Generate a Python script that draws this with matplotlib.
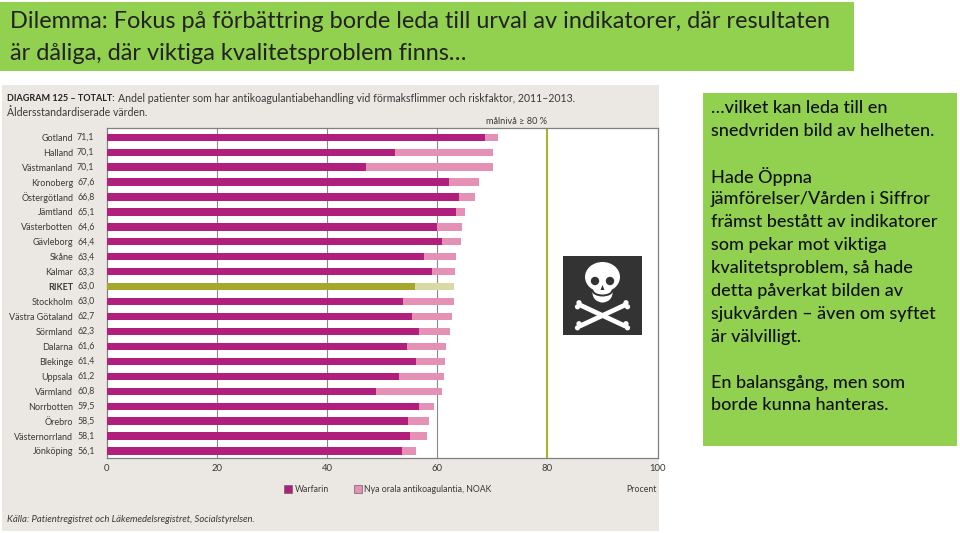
import matplotlib
matplotlib.use("Agg")
import matplotlib.pyplot as plt
from matplotlib.patches import Rectangle, Ellipse, Polygon, Circle, Arc

plt.rcParams['font.family'] = ['Lato', 'DejaVu Sans']

regions = ["Gotland", "Halland", "Västmanland", "Kronoberg", "Östergötland", "Jämtland",
           "Västerbotten", "Gävleborg", "Skåne", "Kalmar", "RIKET", "Stockholm",
           "Västra Götaland", "Sörmland", "Dalarna", "Blekinge", "Uppsala", "Värmland",
           "Norrbotten", "Örebro", "Västernorrland", "Jönköping"]
totals = [71.1, 70.1, 70.1, 67.6, 66.8, 65.1, 64.6, 64.4, 63.4, 63.3, 63.0, 63.0,
          62.7, 62.3, 61.6, 61.4, 61.2, 60.8, 59.5, 58.5, 58.1, 56.1]
warfarin = [68.7, 52.4, 47.1, 62.2, 64.0, 63.5, 60.0, 60.8, 57.6, 59.1, 56.0, 53.9,
            55.4, 56.7, 54.5, 56.2, 53.1, 48.9, 56.8, 54.7, 55.0, 53.6]
xticks = [0, 20, 40, 60, 80, 100]
grid_lines = [20, 40, 60]
target = 80

title_lines = ["Dilemma: Fokus på förbättring borde leda till urval av indikatorer, där resultaten",
               "är dåliga, där viktiga kvalitetsproblem finns…"]
side_lines = ["…vilket kan leda till en", "snedvriden bild av helheten.", None,
              "Hade Öppna", "jämförelser/Vården i Siffror", "främst bestått av indikatorer",
              "som pekar mot viktiga", "kvalitetsproblem, så hade", "detta påverkat bilden av",
              "sjukvården – även om syftet", "är välvilligt.", None,
              "En balansgång, men som", "borde kunna hanteras."]

GREEN = "#92d050"
BEIGE = "#ebe7e2"
TXT = "#3a3a3a"
W, H = 960, 533

fig = plt.figure(figsize=(W / 100, H / 100), dpi=100, facecolor="white")

# overlay in pixel coordinates for the slide parts
bg = fig.add_axes([0, 0, 1, 1], zorder=0)
bg.set_xlim(0, W)
bg.set_ylim(H, 0)
bg.axis("off")
bg.add_patch(Rectangle((0, 2), 854, 69, color=GREEN, lw=0))
bg.add_patch(Rectangle((703, 93), 254, 353, color=GREEN, lw=0))
bg.add_patch(Rectangle((2, 85), 657, 446, color=BEIGE, lw=0))

for yy, line in zip([22, 53], title_lines):
    bg.text(10, yy, line, fontsize=16.9, color="#222222", va="center")

side_y = [108, 131, None, 176, 199, 222, 245, 268, 291, 314, 337, None, 383, 405]
for yy, line in zip(side_y, side_lines):
    if line:
        bg.text(711, yy, line, fontsize=13, color="#111111", va="center", fontweight="medium")

bg.text(7, 98.5, "DIAGRAM 125 – TOTALT:", fontsize=6.5, color="#222222", va="center", fontweight="bold")
bg.text(118, 98.5, "Andel patienter som har antikoagulantiabehandling vid förmaksflimmer och riskfaktor, 2011–2013.",
        fontsize=7.6, color=TXT, va="center")
bg.text(7, 112, "Åldersstandardiserade värden.", fontsize=7.6, color=TXT, va="center")
bg.text(547, 121, "målnivå ≥ 80 %", fontsize=6.6, color=TXT, va="center", ha="right")
bg.text(7, 519, "Källa: Patientregistret och Läkemedelsregistret, Socialstyrelsen.", fontsize=6.85,
        color=TXT, va="center", style="italic")

# legend
bg.add_patch(Rectangle((284, 484.5), 8, 8, fc="#b01f7c", ec="#666666", lw=0.5))
bg.text(295, 489, "Warfarin", fontsize=6.3, color=TXT, va="center")
bg.add_patch(Rectangle((353.5, 484.5), 8, 8, fc="#e591b5", ec="#666666", lw=0.5))
bg.text(364, 489, "Nya orala antikoagulantia, NOAK", fontsize=6.3, color=TXT, va="center")
bg.text(657, 489, "Procent", fontsize=6.3, color=TXT, va="center", ha="right")

# chart
ax = fig.add_axes([106.5 / W, 1 - 458 / H, 551 / W, 330 / H], zorder=1)
ax.set_xlim(0, 100)
ax.set_ylim(len(regions) - 1 + 0.47, -0.62)

noak = [t - w for t, w in zip(totals, warfarin)]
main_cols = ["#a5a82d" if r == "RIKET" else "#b01f7c" for r in regions]
light_cols = ["#d9daa3" if r == "RIKET" else "#e591b5" for r in regions]
ypos = list(range(len(regions)))
ax.barh(ypos, warfarin, height=0.49, color=main_cols, zorder=3)
ax.barh(ypos, noak, left=warfarin, height=0.49, color=light_cols, zorder=3)

for g in grid_lines:
    ax.axvline(g, color="#8a8a8a", lw=0.8, zorder=1)
ax.axvline(target, color="#a9b52e", lw=1.5, zorder=2)

for s in ax.spines.values():
    s.set_color("#808080")
    s.set_linewidth(0.9)

ax.set_xticks(xticks)
ax.set_xticklabels([str(x) for x in xticks], fontsize=6.8, color=TXT)
ax.tick_params(axis="x", length=0, pad=4)
ax.set_yticks(ypos)
ax.set_yticklabels(regions, fontsize=6.5, color=TXT)
ax.tick_params(axis="y", length=0, pad=24)
for lab, r in zip(ax.get_yticklabels(), regions):
    if r == "RIKET":
        lab.set_fontweight("bold")

# totals next to the names
trans = ax.get_yaxis_transform()
for y, t in zip(ypos, totals):
    ax.text(-0.022, y, f"{t:.1f}".replace(".", ","), transform=trans, ha="right", va="center",
            fontsize=6.3, color=TXT, clip_on=False)

# skull and crossbones, pixel coordinates
top = fig.add_axes([0, 0, 1, 1], zorder=2)
top.set_xlim(0, W)
top.set_ylim(H, 0)
top.axis("off")
top.patch.set_alpha(0)
top.add_patch(Rectangle((563, 256), 79, 79, color="#333333", lw=0))
for a, b in [((580, 305), (625, 326)), ((625, 305), (580, 326))]:
    top.plot([a[0], b[0]], [a[1], b[1]], color="white", lw=3.4, solid_capstyle="round")
    for e in (a, b):
        sgn = 1 if e[0] < 603 else -1
        top.add_patch(Circle((e[0] - sgn, e[1] - 2.3), 2.6, color="white", lw=0))
        top.add_patch(Circle((e[0] - 2.5 * sgn, e[1] + 1.8), 2.6, color="white", lw=0))
top.add_patch(Ellipse((602.5, 277), 35, 30, color="white", lw=0))
top.add_patch(Ellipse((602.5, 293), 20, 19, color="white", lw=0))
top.add_patch(Arc((602.5, 290), 20, 11, theta1=0, theta2=180, color="#333333", lw=1.4))
top.add_patch(Circle((595, 281), 4.2, color="#333333", lw=0))
top.add_patch(Circle((610, 281), 4.2, color="#333333", lw=0))
top.add_patch(Polygon([(602.5, 285), (600.5, 290), (604.5, 290)], color="#333333", lw=0))

fig.savefig("out.png", dpi=100)
